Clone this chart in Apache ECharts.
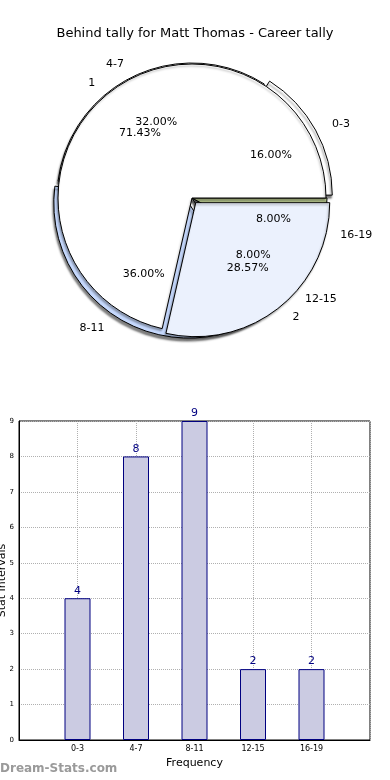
<!DOCTYPE html>
<html><head><meta charset="utf-8">
<script src="https://cdn.jsdelivr.net/npm/echarts@6/dist/echarts.min.js"></script>
<style>html,body{margin:0;padding:0;background:#fff}#c{width:390px;height:780px}</style>
</head><body><div id="c"></div>
<script>
const categories = ['0-3','4-7','8-11','12-15','16-19'];
const counts = [4,8,9,2,2];
const groupNames = ['1','2'];
const groupCounts = [5,2];
const yTicks = [0,1,2,3,4,5,6,7,8,9];

const F = 'DejaVu Sans';
const colorsA = ['#ffffff','#ffffff','#c6d9fd','#a8a8a8','#d2e4a4'];
const colorsB = ['#ffffff','#ebf1fd'];
const explodeA = [true,false,true,false,false];
const explodeB = [false,true];
const C = [192,198];
const R = 135;

const dataA = categories.map((n,i)=>({name:n,value:counts[i],selected:explodeA[i],itemStyle:{color:colorsA[i]}}));
const dataB = groupNames.map((n,i)=>({name:n,value:groupCounts[i],selected:explodeB[i],itemStyle:{color:colorsB[i]}}));

const pieBase = {
  type:'pie', center:C, startAngle:0, clockwise:false, animation:false,
  avoidLabelOverlap:false, selectedMode:'multiple', silent:true,
  label:{show:true, position:'outside', color:'#000', fontFamily:F, fontSize:11},
  labelLine:{show:false, length:13, length2:0},
  labelLayout:{hideOverlap:false},
  emphasis:{disabled:true}
};
const pctLabel = {show:true, position:'inside', color:'#000', fontFamily:F, fontSize:11,
  formatter:p=>p.percent.toFixed(2)+'%'};

const xCats = [''].concat(categories, ['']);
const barVals = [null].concat(counts, [null]);

const option = {
  backgroundColor:'#fff',
  title:{text:'Behind tally for Matt Thomas - Career tally', left:'center', top:22,
    textStyle:{fontFamily:F, fontSize:13, fontWeight:'normal', color:'#000'}},
  grid:{left:19, right:20, top:421, bottom:40, outerBoundsContain:'axisLabel',
    show:true, borderColor:'#000', borderWidth:1, backgroundColor:'transparent'},
  xAxis:{type:'category', data:xCats, boundaryGap:false,
    name:'Frequency', nameLocation:'middle', nameGap:18,
    nameTextStyle:{fontFamily:F, fontSize:11, color:'#000'},
    axisLine:{lineStyle:{color:'#000'}},
    axisTick:{show:false},
    axisLabel:{fontFamily:F, fontSize:8, color:'#000', margin:5, interval:0},
    splitLine:{show:true, lineStyle:{color:'#b0b0b0', type:'dotted'}}},
  yAxis:{type:'value', min:yTicks[0], max:yTicks[yTicks.length-1], interval:1,
    name:'Stat Intervals', nameLocation:'middle', nameGap:11, nameMoveOverlap:false,
    nameTextStyle:{fontFamily:F, fontSize:11, color:'#000'},
    axisLine:{show:true, lineStyle:{color:'#000'}},
    axisTick:{show:false},
    axisLabel:{show:true, fontFamily:F, fontSize:7, color:'#000', margin:5},
    splitLine:{show:true, lineStyle:{color:'#b0b0b0', type:'dotted'}}},
  series:[
    Object.assign({}, pieBase, {radius:[0,R], selectedOffset:6, data:dataA,
      itemStyle:{borderColor:'#000', borderWidth:1, shadowColor:'rgba(0,0,0,0.5)', shadowBlur:2, shadowOffsetX:-1, shadowOffsetY:3}}),
    Object.assign({}, pieBase, {radius:[0,R-1], selectedOffset:6, data:dataB,
      itemStyle:{borderColor:'#000', borderWidth:1, shadowColor:'rgba(0,0,0,0.3)', shadowBlur:2, shadowOffsetX:-1, shadowOffsetY:2}}),
    Object.assign({}, pieBase, {radius:[R*0.2,R], selectedOffset:6, data:categories.map((n,i)=>({name:n,value:counts[i],selected:explodeA[i]})),
      itemStyle:{color:'rgba(0,0,0,0)', borderWidth:0}, label:pctLabel}),
    Object.assign({}, pieBase, {radius:[R*0.2,R-1], selectedOffset:6, data:groupNames.map((n,i)=>({name:n,value:groupCounts[i],selected:explodeB[i]})),
      itemStyle:{color:'rgba(0,0,0,0)', borderWidth:0}, label:pctLabel}),
    {type:'bar', data:barVals, barWidth:26, animation:false, silent:true,
      itemStyle:{color:'#cbcbe2', borderColor:'#000080', borderWidth:1},
      label:{show:true, position:'top', distance:2, color:'#000080', fontFamily:F, fontSize:11}}
  ],
  graphic:[{type:'text', left:0, top:763, style:{text:'Dream-Stats.com', fontFamily:F, fontSize:12, fontWeight:'bold', fill:'#9a9a9a'}}]
};
echarts.init(document.getElementById('c'), null, {renderer:'canvas'}).setOption(option);
</script></body></html>
